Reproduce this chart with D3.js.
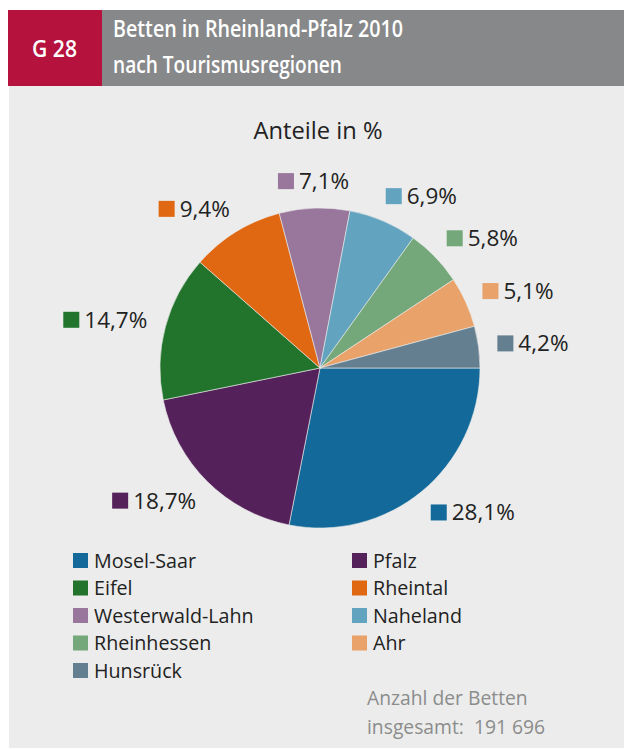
<!DOCTYPE html>
<html><head><meta charset="utf-8">
<script src="https://cdn.jsdelivr.net/npm/d3@7"></script>
<style>
html,body{margin:0;padding:0;background:#fff;}
svg{display:block;font-family:"Open Sans","Noto Sans",sans-serif;}
</style></head>
<body><svg id="c" width="624" height="749"></svg>
<script>
const categories = ["Mosel-Saar","Pfalz","Eifel","Rheintal","Westerwald-Lahn","Naheland","Rheinhessen","Ahr","Hunsrück"];
const values = [28.1,18.7,14.7,9.4,7.1,6.9,5.8,5.1,4.2];
const valueLabels = ["28,1%","18,7%","14,7%","9,4%","7,1%","6,9%","5,8%","5,1%","4,2%"];
const colors = ["#136a9a","#55215b","#22742c","#e06812","#99769c","#62a3c0","#74a87a","#eaa26b","#647f8f"];
const chartTitle = ["Betten in Rheinland-Pfalz 2010","nach Tourismusregionen"];
const chartNumber = "G 28";
const subtitle = "Anteile in %";
const footnote = ["Anzahl der Betten","insgesamt:  191 696"];

const svg = d3.select("#c");
svg.append("rect").attr("x",9).attr("y",86).attr("width",615).attr("height",662).attr("fill","#ebeceb");
svg.append("rect").attr("x",8).attr("y",10).attr("width",94).attr("height",76).attr("fill","#b5123e");
svg.append("rect").attr("x",102).attr("y",10).attr("width",522).attr("height",76).attr("fill","#87888a");
svg.append("text").attr("x",32).attr("y",57).attr("fill","#fff").attr("font-size",23).attr("font-weight",600)
  .attr("textLength",45).attr("lengthAdjust","spacingAndGlyphs").text(chartNumber);
svg.append("text").attr("x",113).attr("y",37).attr("fill","#fff").attr("font-size",23).attr("font-weight",600)
  .attr("textLength",290).attr("lengthAdjust","spacingAndGlyphs").text(chartTitle[0]);
svg.append("text").attr("x",113).attr("y",73).attr("fill","#fff").attr("font-size",23).attr("font-weight",600)
  .attr("textLength",229).attr("lengthAdjust","spacingAndGlyphs").text(chartTitle[1]);

svg.append("text").attr("x",318).attr("y",139).attr("text-anchor","middle").attr("fill","#222")
  .attr("font-size",23).attr("textLength",129).attr("lengthAdjust","spacingAndGlyphs").text(subtitle);

const cx = 320, cy = 368, R = 160;
const g = svg.append("g").attr("transform",`translate(${cx},${cy})`);
const pie = d3.pie().sort(null).value(d=>d.v).startAngle(Math.PI/2).endAngle(Math.PI/2+2*Math.PI);
const data = categories.map((c,i)=>({c,v:values[i],lab:valueLabels[i],col:colors[i]}));
const arcs = pie(data);
const arc = d3.arc().innerRadius(0).outerRadius(R);
g.selectAll("path").data(arcs).join("path").attr("d",arc).attr("fill",d=>d.data.col)
  .attr("stroke","#ebeceb").attr("stroke-width",0.6);

const lr = 187, sq = 16, fs = 22.5;
arcs.forEach(a=>{
  const m = (a.startAngle+a.endAngle)/2;
  const ax = Math.sin(m)*lr, ay = -Math.cos(m)*lr;
  const lg = g.append("g");
  const t = lg.append("text").attr("font-size",fs).attr("fill","#222").text(a.data.lab);
  const tw = t.node().getComputedTextLength();
  let x0;
  if (ax > 20) x0 = ax - sq/2;
  else if (ax < -20) x0 = ax - (sq + 5 + tw) + 8;
  else x0 = ax - (sq + 5 + tw)/2;
  lg.append("rect").attr("x",x0).attr("y",ay-sq/2).attr("width",sq).attr("height",sq).attr("fill",a.data.col);
  t.attr("x",x0+sq+5).attr("y",ay+8);
});

const legend = svg.append("g");
data.forEach((d,i)=>{
  const col = i%2, row = Math.floor(i/2);
  const x = col ? 352 : 73, y = 553 + row*27.5;
  legend.append("rect").attr("x",x).attr("y",y).attr("width",15).attr("height",15).attr("fill",d.col);
  legend.append("text").attr("x",x+21).attr("y",y+14.5).attr("font-size",19.7).attr("fill","#222").text(d.c);
});

svg.append("text").attr("x",367).attr("y",705).attr("font-size",19.3).attr("fill","#8c8c8c").text(footnote[0]);
svg.append("text").attr("x",367).attr("y",734).attr("font-size",19.3).attr("fill","#8c8c8c").style("white-space","pre").text(footnote[1]);
</script></body></html>
